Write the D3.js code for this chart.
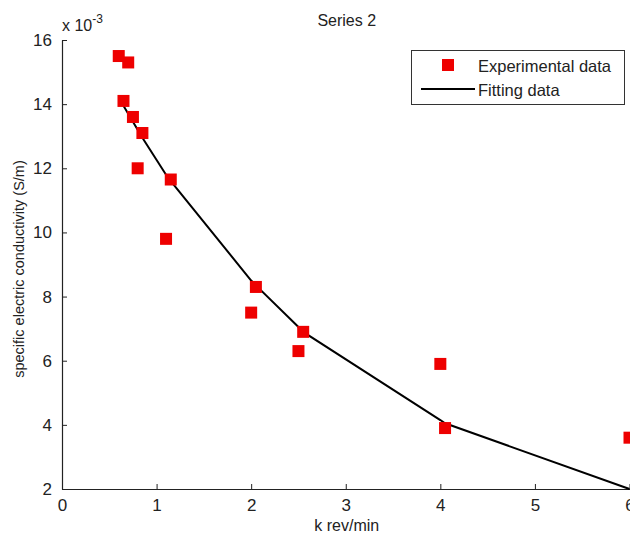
<!DOCTYPE html>
<html>
<head>
<meta charset="utf-8">
<script src="https://cdn.jsdelivr.net/npm/d3@7"></script>
<style>
  body { margin: 0; background: #fff; }
  svg { display: block; font-family: "Liberation Sans", Arial, sans-serif; }
  .narrow { font-family: "Liberation Sans Narrow", "Liberation Sans", Arial, sans-serif; }
</style>
</head>
<body>
<div id="chart"></div>
<script>
// datos experimentales (conductividad en unidades de 1e-3 S/m)
var expX = [0.6, 0.7, 0.65, 0.75, 0.85, 0.8, 1.15, 1.1, 2.0, 2.05, 2.5, 2.55, 4.0, 4.05, 6.0];
var expY = [15.5, 15.3, 14.1, 13.6, 13.1, 12.0, 11.65, 9.8, 7.5, 8.3, 6.3, 6.9, 5.9, 3.9, 3.6];

// curva de ajuste
var fitX = [0.6, 0.65, 0.7, 0.75, 0.8, 0.85, 1.1, 1.15, 2.0, 2.05, 2.5, 2.55, 4.0, 4.05, 6.0];
var fitY = [14.2, 13.95, 13.7, 13.45, 13.2, 12.95, 11.8, 11.6, 8.5, 8.35, 7.05, 6.9, 4.15, 4.05, 2.0];

var xTicks = [0, 1, 2, 3, 4, 5, 6];
var yTicks = [2, 4, 6, 8, 10, 12, 14, 16];

var W = 630, H = 537;
var mLeft = 62, mRight = 629.5, mTop = 40, mBottom = 489;

var svg = d3.select("#chart").append("svg")
    .attr("width", W)
    .attr("height", H);

var x = d3.scaleLinear().domain([0, 6]).range([mLeft, mRight]);
var y = d3.scaleLinear().domain([2, 16]).range([mBottom, mTop]);

// ejes estilo matlab (ticks hacia adentro)
var xAxis = d3.axisBottom(x).tickValues(xTicks).tickFormat(d3.format("d"))
    .tickSizeInner(-5).tickSizeOuter(0).tickPadding(10);
var yAxis = d3.axisLeft(y).tickValues(yTicks).tickFormat(d3.format("d"))
    .tickSizeInner(-5).tickSizeOuter(0).tickPadding(10);

var gx = svg.append("g")
    .attr("transform", "translate(0," + mBottom + ")")
    .call(xAxis);
var gy = svg.append("g")
    .attr("transform", "translate(" + mLeft + ",0)")
    .call(yAxis);

[gx, gy].forEach(function(g) {
    g.select(".domain").attr("stroke", "#222").attr("stroke-width", 1.2);
    g.selectAll(".tick line").attr("stroke", "#222");
    g.selectAll(".tick text")
        .attr("class", "narrow")
        .attr("fill", "#222")
        .style("font-size", "17px");
});

// multiplicador
var mult = svg.append("text")
    .attr("x", 62)
    .attr("y", 31)
    .attr("class", "narrow")
    .style("font-size", "16px")
    .attr("fill", "#222");
mult.append("tspan").text("x 10");
mult.append("tspan").attr("dy", -8).style("font-size", "12px").text("-3");

// titulo
svg.append("text")
    .attr("x", (mLeft + mRight) / 2 + 1)
    .attr("y", 26)
    .attr("text-anchor", "middle")
    .style("font-size", "16px")
    .attr("fill", "#222")
    .text("Series 2");

// etiquetas de los ejes
svg.append("text")
    .attr("x", (mLeft + mRight) / 2 + 1)
    .attr("y", 531)
    .attr("text-anchor", "middle")
    .style("font-size", "16px")
    .attr("fill", "#222")
    .text("k rev/min");

svg.append("text")
    .attr("transform", "translate(24,269) rotate(-90)")
    .attr("text-anchor", "middle")
    .style("font-size", "14.5px")
    .attr("fill", "#222")
    .text("specific electric conductivity (S/m)");

// linea de ajuste
var fitData = fitX.map(function(d, i) { return { x: d, y: fitY[i] }; });
var linea = d3.line()
    .x(function(d) { return x(d.x); })
    .y(function(d) { return y(d.y); });

svg.append("path")
    .datum(fitData)
    .attr("fill", "none")
    .attr("stroke", "#000")
    .attr("stroke-width", 2)
    .attr("d", linea);

// puntos experimentales
var ms = 12;
var expData = expX.map(function(d, i) { return { x: d, y: expY[i] }; });
svg.selectAll("rect.exp")
    .data(expData)
    .enter()
    .append("rect")
    .attr("class", "exp")
    .attr("x", function(d) { return x(d.x) - ms / 2; })
    .attr("y", function(d) { return y(d.y) - ms / 2; })
    .attr("width", ms)
    .attr("height", ms)
    .attr("fill", "#ee0000");

// leyenda
var leg = svg.append("g");
leg.append("rect")
    .attr("x", 411.5)
    .attr("y", 50.5)
    .attr("width", 213)
    .attr("height", 54)
    .attr("fill", "#fff")
    .attr("stroke", "#333")
    .attr("stroke-width", 1);
leg.append("rect")
    .attr("x", 448 - ms / 2)
    .attr("y", 65 - ms / 2)
    .attr("width", ms)
    .attr("height", ms)
    .attr("fill", "#ee0000");
leg.append("line")
    .attr("x1", 421)
    .attr("x2", 475)
    .attr("y1", 89)
    .attr("y2", 89)
    .attr("stroke", "#000")
    .attr("stroke-width", 2);
leg.append("text")
    .attr("x", 478)
    .attr("y", 72)
    .style("font-size", "16.5px")
    .attr("fill", "#222")
    .text("Experimental data");
leg.append("text")
    .attr("x", 478)
    .attr("y", 96)
    .style("font-size", "16.5px")
    .attr("fill", "#222")
    .text("Fitting data");
</script>
</body>
</html>
